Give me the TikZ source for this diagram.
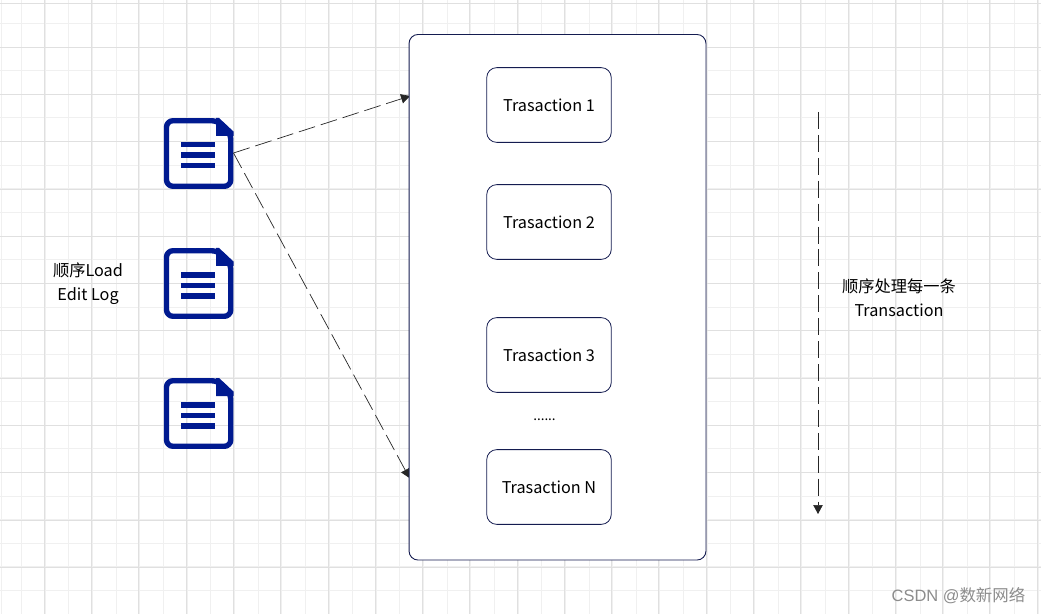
\documentclass[tikz,border=0pt]{standalone}
\usepackage{fontspec}
\setmainfont{Noto Sans CJK SC}
\newfontfamily\markfont{Liberation Sans}
\newfontfamily\markcjk{Noto Sans CJK SC}
\usetikzlibrary{arrows.meta}

\definecolor{navy}{HTML}{141C50}
\definecolor{docblue}{HTML}{001A90}

\begin{document}
\begin{tikzpicture}[
  x=1bp,
  y=-1bp,
  line join=round,
  every node/.style={inner sep=0},
  gridminor/.style={draw=black!6, line width=0.9},
  gridmajor/.style={draw=black!12, line width=0.9},
  outerbox/.style={draw=navy, line width=0.9, rounded corners=9, fill=white,
    minimum width=298, minimum height=527.5},
  txbox/.style={draw=navy, line width=0.8, rounded corners=10, fill=white,
    minimum width=125, minimum height=75},
  label/.style={font=\fontsize{16.3}{24}\selectfont, align=center},
  arrow/.style={draw=black!85, line width=0.7, dash pattern=on 17 off 6,
    -{Triangle[length=9,width=9.5]}},
  docicon/.pic={
    \draw[draw=docblue, line width=5.4, rounded corners=6.5]
      (166.5,120.7) -- (218,120.7) -- (230.8,133.5) -- (230.8,186.3) -- (166.5,186.3) -- cycle;
    \fill[docblue] (216,118) -- (219,118) -- (233.5,131.5) -- (233.5,136) -- (216,136) -- cycle;
    \foreach \liney in {142,152.5,163}
      \fill[docblue] (181,\liney) rectangle (214.5,\liney+5.5);
  }
]
\path[use as bounding box] (0,0) rectangle (1041,614);
\fill[white] (0,0) rectangle (1041,614);

% Background grid
\draw[gridminor] (1.5,0) -- (1.5,614);
\foreach \k in {1,...,44} {
  \draw[gridminor] (-2+23.64*\k,0) -- (-2+23.64*\k,614);
}
\foreach \k in {1,...,26} {
  \draw[gridminor] (0,-0.2+23.63*\k) -- (1041,-0.2+23.63*\k);
}
\foreach \k in {0,...,21} {
  \draw[gridmajor] (44.3+47.28*\k,0) -- (44.3+47.28*\k,614);
}
\draw[gridmajor] (0,3.3) -- (1041,3.3);
\foreach \k in {0,...,12} {
  \draw[gridmajor] (0,47.3+47.27*\k) -- (1041,47.3+47.27*\k);
}

% Edit log files
\pic at (0,0) {docicon};
\pic at (0,130) {docicon};
\pic at (0,260) {docicon};
\coordinate (logout) at (233.5,153);
\node[label] (loadlabel) at (88,284) {顺序Load\\Edit Log};

% Connections run under the big box
\coordinate (intop) at (410,96);
\coordinate (inbottom) at (409.5,478);
\draw[arrow] (logout) -- (intop);
\draw[arrow] (logout) -- (inbottom);

% Transactions
\node[outerbox] (editlog) at (557.5,297.25) {};
\node[txbox, label] (tx1) at (549,105) {Trasaction 1};
\node[txbox, label] (tx2) at (549,222) {Trasaction 2};
\node[txbox, label] (tx3) at (549,355) {Trasaction 3};
\node[txbox, label] (txn) at (549,487) {Trasaction N};
\node[font=\fontsize{13.5}{16}\selectfont] (dots) at (544.5,420) {......};

\coordinate (orderstart) at (818,112);
\coordinate (orderend) at (818,514);
\draw[arrow] (orderstart) -- (orderend);
\node[label] (orderlabel) at (899,298) {顺序处理每一条\\Transaction};

% Watermark
\node[text=black!45, font=\fontsize{16.5}{18}\selectfont, anchor=east] (mark) at (1025.5,596)
  {\markfont CSDN @\markcjk 数新网络};

\end{tikzpicture}
\end{document}
